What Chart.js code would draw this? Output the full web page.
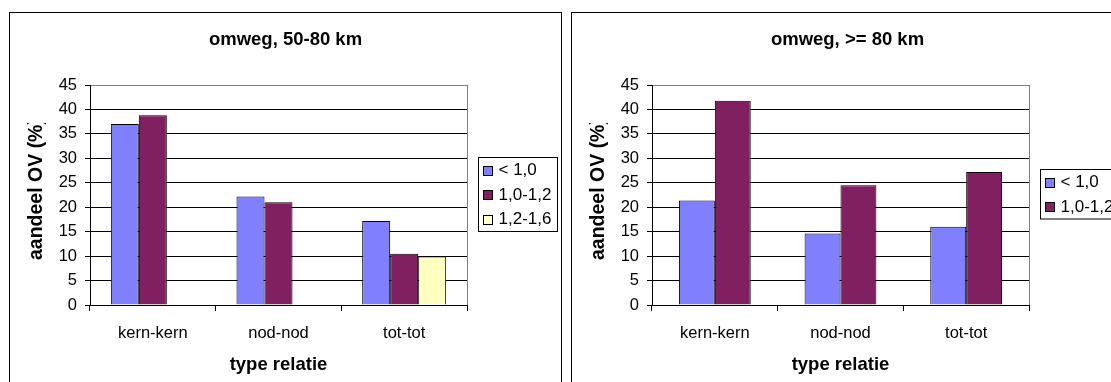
<!DOCTYPE html>
<html>
<head>
<meta charset="utf-8">
<script src="https://cdn.jsdelivr.net/npm/chart.js@4/dist/chart.umd.min.js"></script>
<style>
  html, body { margin: 0; padding: 0; background: #fff; overflow: hidden; }
  body { width: 1111px; height: 382px; position: relative; }
  .frame { position: absolute; top: 12px; width: 551px; height: 380px; border: 1px solid #000; background: #fff; }
  .frame canvas { position: absolute; left: 0; top: 0; }
</style>
</head>
<body>
<div class="frame" style="left:9px"><canvas id="c1" width="551" height="375"></canvas></div>
<div class="frame" style="left:571px"><canvas id="c2" width="551" height="375"></canvas></div>
<script>
// Categories and series (share of public transport, %)
const categories = ['kern-kern', 'nod-nod', 'tot-tot'];
const seriesLabels = ['< 1,0', '1,0-1,2', '1,2-1,6'];

// detour 50-80 km
const left_lt10 = [37.0, 22.2, 17.2];
const left_10_12 = [38.8, 21.0, 10.5];
const left_12_16 = [null, null, 9.9];

// detour >= 80 km
const right_lt10 = [21.4, 14.6, 16.0];
const right_10_12 = [41.8, 24.5, 27.2];

const yTicks = [0, 5, 10, 15, 20, 25, 30, 35, 40, 45];
const yTitle = 'aandeel OV (%)';
const xTitle = 'type relatie';

const colors = ['#8080FF', '#802060', '#FFFFC0'];
const FONT = '"Liberation Sans", Arial, sans-serif';

// Chart title centred across the whole frame
const frameTitle = {
  id: 'frameTitle',
  afterDraw(chart, args, opts) {
    const ctx = chart.ctx;
    ctx.save();
    ctx.font = 'bold 18.5px ' + FONT;
    ctx.fillStyle = '#000';
    ctx.textAlign = 'center';
    ctx.textBaseline = 'middle';
    ctx.fillText(opts.text, chart.width / 2, opts.y);
    ctx.restore();
  }
};

// Vertical axis title, inside the text box that holds it
const axisTitle = {
  id: 'axisTitle',
  afterDraw(chart, args, opts) {
    const ctx = chart.ctx;
    ctx.save();
    ctx.beginPath();
    ctx.rect(0, opts.clipTop, chart.width, chart.height - opts.clipTop);
    ctx.clip();
    ctx.translate(opts.x, opts.bottom);
    ctx.rotate(-Math.PI / 2);
    ctx.font = 'bold 19.5px ' + FONT;
    ctx.fillStyle = '#000';
    ctx.textAlign = 'left';
    ctx.textBaseline = 'middle';
    ctx.fillText(opts.text, 0, 0);
    ctx.restore();
  }
};

// Legend drawn as a framed box to the right of the plot area
const boxLegend = {
  id: 'boxLegend',
  afterDraw(chart, args, opts) {
    const ctx = chart.ctx;
    const ds = chart.data.datasets;
    const rowH = 24.5;
    const h = ds.length * rowH + 0.5;
    const top = Math.round(opts.centerY - h / 2) + 0.5;
    const left = opts.x + 0.5;
    ctx.save();
    ctx.fillStyle = '#fff';
    ctx.fillRect(left, top, opts.width, h);
    ctx.strokeStyle = '#000';
    ctx.lineWidth = 1;
    ctx.strokeRect(left, top, opts.width, h);
    ctx.font = '17px ' + FONT;
    ctx.textBaseline = 'middle';
    ctx.textAlign = 'left';
    ds.forEach((d, i) => {
      const cy = top + rowH * (i + 0.5) + 1;
      ctx.fillStyle = d.backgroundColor;
      ctx.fillRect(left + 5, Math.round(cy - 5) + 0.5, 9, 9);
      ctx.strokeStyle = '#000';
      ctx.strokeRect(left + 5, Math.round(cy - 5) + 0.5, 9, 9);
      ctx.fillStyle = '#000';
      ctx.fillText(d.label, left + 20, cy);
    });
    ctx.restore();
  }
};

// Grey frame on the right of the plot area
const plotFrame = {
  id: 'plotFrame',
  beforeDatasetsDraw(chart) {
    const {ctx, chartArea: a} = chart;
    ctx.save();
    ctx.strokeStyle = '#808080';
    ctx.lineWidth = 1;
    ctx.beginPath();
    ctx.moveTo(Math.round(a.right) + 0.5, a.top);
    ctx.lineTo(Math.round(a.right) + 0.5, a.bottom);
    ctx.stroke();
    ctx.restore();
  }
};

function makeChart(id, title, datasets, catPct) {
  return new Chart(document.getElementById(id), {
    type: 'bar',
    data: {
      labels: categories,
      datasets: datasets.map((vals, i) => ({
        label: seriesLabels[i],
        data: vals,
        backgroundColor: colors[i],
        borderColor: '#000',
        borderWidth: 1,
        borderSkipped: 'bottom',
        categoryPercentage: catPct,
        barPercentage: 1
      }))
    },
    options: {
      responsive: false,
      animation: false,
      devicePixelRatio: 1,
      layout: { padding: { left: 0, right: 94, top: 72, bottom: 0 } },
      plugins: {
        legend: { display: false },
        tooltip: { enabled: false },
        title: { display: false },
        frameTitle: { text: title, y: 27 },
        axisTitle: { text: yTitle, x: 27, bottom: 247, clipTop: 110 },
        boxLegend: { x: 468, width: 79, centerY: 181 }
      },
      scales: {
        x: {
          offset: true,
          grid: { display: true, drawOnChartArea: false, drawTicks: true, tickLength: 6, offset: true, color: '#000' },
          border: { color: '#000', width: 1 },
          ticks: { color: '#000', font: { family: FONT, size: 16.5 }, padding: 13 },
          title: {
            display: true, text: xTitle, color: '#000',
            font: { family: FONT, size: 18.5, weight: 'bold' },
            padding: { top: 0, bottom: 12 }
          },
          afterFit(s) { s.height = 83; }
        },
        y: {
          min: 0, max: 45,
          afterBuildTicks(s) { s.ticks = yTicks.map(v => ({ value: v })); },
          grid: {
            color: c => (c.tick && c.tick.value === 45 ? '#808080' : '#000'),
            tickColor: '#000', tickLength: 5, drawTicks: true
          },
          border: { color: '#000', width: 1 },
          ticks: { color: '#000', font: { family: FONT, size: 16.5 }, padding: 8 },
          afterFit(s) { s.width = 80; }
        }
      }
    },
    plugins: [plotFrame, boxLegend, frameTitle, axisTitle]
  });
}

makeChart('c1', 'omweg, 50-80 km', [left_lt10, left_10_12, left_12_16], 84 / 125.7);
makeChart('c2', 'omweg, >= 80 km', [right_lt10, right_10_12], 72 / 126);
</script>
</body>
</html>
